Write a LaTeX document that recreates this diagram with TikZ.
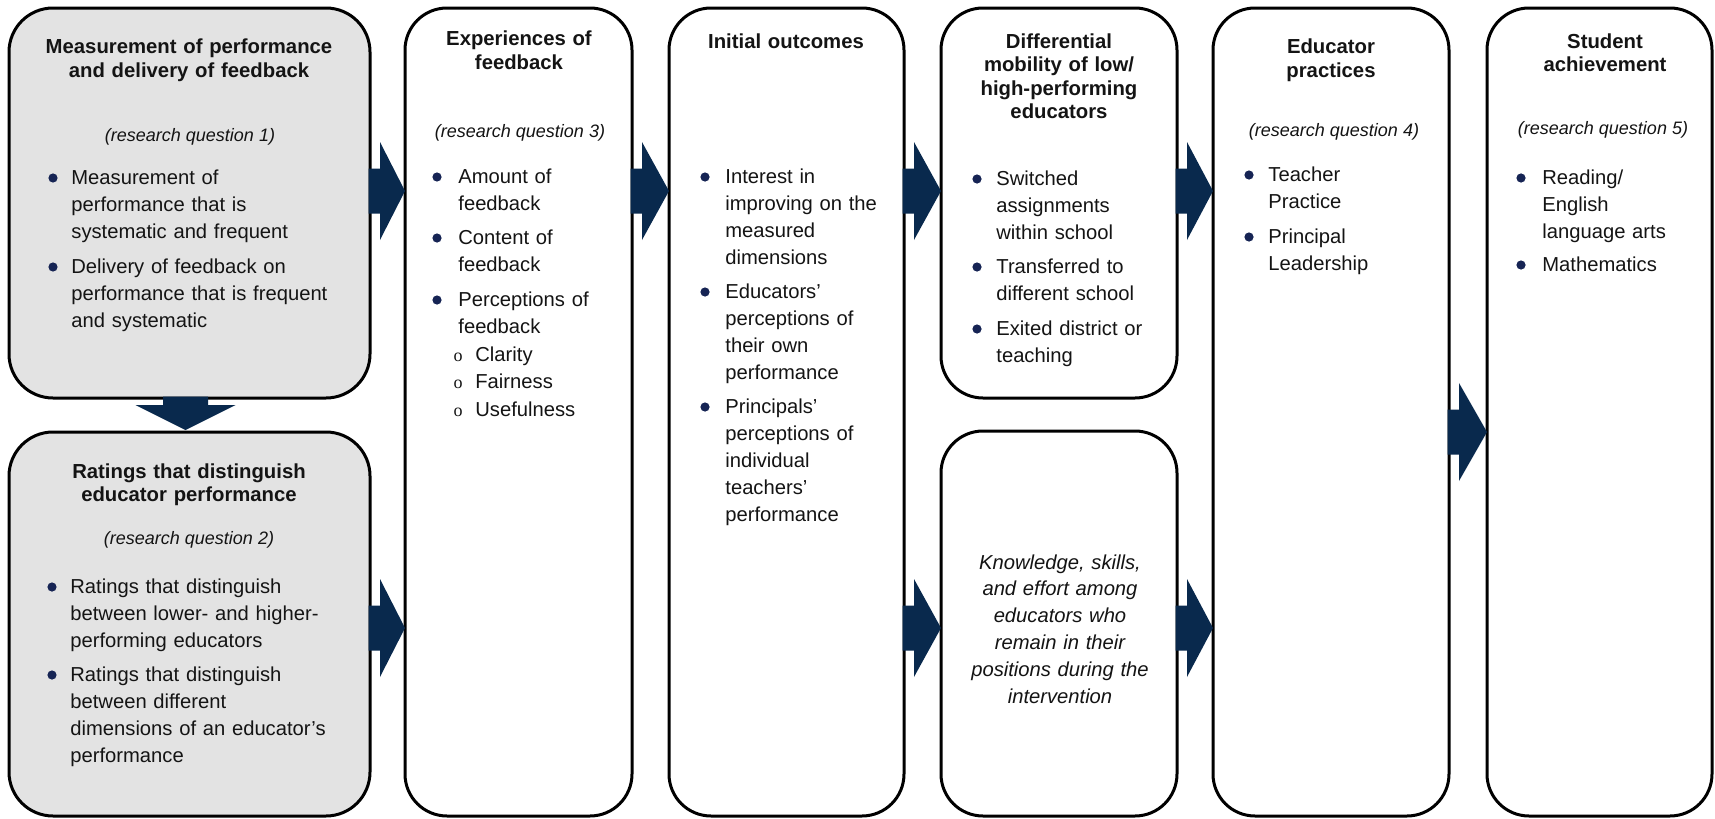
\documentclass[tikz,border=0pt]{standalone}
\usepackage{fontspec}
\setmainfont{Liberation Sans}
\newfontfamily\serifo{Liberation Serif}
\usetikzlibrary{calc}
\definecolor{navy}{RGB}{9,41,77}
\definecolor{dotc}{RGB}{22,36,84}
\definecolor{boxgray}{RGB}{227,227,227}
\definecolor{txt}{RGB}{20,20,20}
\newcommand\bitem[5]{%
  \fill[dotc] (#2,#4-6) circle (2.3pt);
  \node[item] (#1) at (#3,#4) {#5};}
\newcommand\rarr[3]{%
  \fill[navy] let \p1=(#1.north east), \p2=(#2.west) in
   (\x1-0.75pt,\y1-#3*0.5pt+11.25pt) -- (\x1+5pt,\y1-#3*0.5pt+11.25pt) --
   (\x1+5pt,\y1-#3*0.5pt+24.5pt) -- (\x2,\y1-#3*0.5pt) --
   (\x1+5pt,\y1-#3*0.5pt-24.5pt) -- (\x1+5pt,\y1-#3*0.5pt-11.25pt) --
   (\x1-0.75pt,\y1-#3*0.5pt-11.25pt) -- cycle;}
\begin{document}
\begin{tikzpicture}[x=0.5pt,y=-0.5pt,
  box/.style={draw=black, line width=1.5pt, rounded corners=22pt, inner sep=0pt, outer sep=0pt, anchor=north west},
  graybox/.style={box, fill=boxgray},
  whitebox/.style={box, fill=white, rounded corners=21pt},
  ttl/.style={font=\bfseries\fontsize{10.15}{11.75}\selectfont, align=center, anchor=base, inner sep=0pt, text=txt},
  rq/.style={font=\itshape\fontsize{9}{11}\selectfont, anchor=base, inner sep=0pt, text=txt},
  item/.style={font=\fontsize{10.1}{13.5}\selectfont, align=left, anchor=base west, inner sep=0pt, text=txt},
  subo/.style={font=\serifo\fontsize{9}{13.75}\selectfont, align=center, text width=8pt, anchor=base, inner sep=0pt, text=txt}]
\useasboundingbox (0,0) rectangle (1715,819);
\fill[white] (0,0) rectangle (1715,819);

% boxes
\node[graybox, minimum width=180.5pt, minimum height=195pt] (A) at (9,8) {};
\node[graybox, minimum width=180.5pt, minimum height=192pt] (D) at (9,432) {};
\node[whitebox, minimum width=113.5pt, minimum height=404pt] (B) at (405,8) {};
\node[whitebox, minimum width=117.5pt, minimum height=404pt] (C) at (669,8) {};
\node[whitebox, minimum width=118pt, minimum height=195pt] (E) at (941,8) {};
\node[whitebox, minimum width=118pt, minimum height=192.5pt] (F) at (941,431) {};
\node[whitebox, minimum width=118pt, minimum height=404pt] (G) at (1213,8) {};
\node[whitebox, minimum width=112.5pt, minimum height=404pt] (H) at (1487,8) {};

% box A
\node[ttl, text width=170pt] (At) at (189,54) {Measurement of performance\\and delivery of feedback};
\node[rq] (Aq) at (190,141) {(research question 1)};
\begingroup
\tikzset{item/.append style={text width=140pt}}
\bitem{a1}{53}{71}{184}{Measurement of\\performance that is\\systematic and frequent}
\bitem{a2}{53}{71}{273}{Delivery of feedback on\\performance that is frequent\\and systematic}
\endgroup

% box D
\node[ttl, text width=170pt] (Dt) at (189,478) {Ratings that distinguish\\educator performance};
\node[rq] (Dq) at (189,544) {(research question 2)};
\begingroup
\tikzset{item/.append style={text width=140pt}}
\bitem{d1}{52}{70}{593}{Ratings that distinguish\\between lower- and higher-\\performing educators}
\bitem{d2}{52}{70}{681}{Ratings that distinguish\\between different\\dimensions of an educator’s\\performance}
\endgroup

% box B
\node[ttl, text width=105pt] (Bt) at (519,46) {Experiences of\\feedback};
\node[rq] (Bq) at (520,137) {(research question 3)};
\begingroup
\tikzset{item/.append style={text width=80pt}}
\bitem{b1}{437}{458}{183}{Amount of\\feedback}
\bitem{b2}{437}{458}{244}{Content of\\feedback}
\bitem{b3}{437}{458}{306}{Perceptions of\\feedback}
\node[item, text width=70pt, font=\fontsize{10.1}{13.75}\selectfont] (b4) at (475,361) {Clarity\\Fairness\\Usefulness};
\node[subo] (b4o) at (458,361) {o\\o\\o};
\endgroup

% box C
\node[ttl, text width=105pt] (Ct) at (786,48) {Initial outcomes};
\begingroup
\tikzset{item/.append style={text width=82pt}}
\bitem{c1}{705}{725}{183}{Interest in\\improving on the\\measured\\dimensions}
\bitem{c2}{705}{725}{298}{Educators’\\perceptions of\\their own\\performance}
\bitem{c3}{705}{725}{413}{Principals’\\perceptions of\\individual\\teachers’\\performance}
\endgroup

% box E
\node[ttl, text width=110pt] (Et) at (1059,48) {Differential\\mobility of low/\\high-performing\\educators};
\begingroup
\tikzset{item/.append style={text width=84pt}}
\bitem{e1}{977}{996}{185}{Switched\\assignments\\within school}
\bitem{e2}{977}{996}{273}{Transferred to\\different school}
\bitem{e3}{977}{996}{335}{Exited district or\\teaching}
\endgroup

% box F
\node[font=\itshape\fontsize{10.1}{13.45}\selectfont, align=center, text width=110pt, anchor=base, inner sep=0pt, text=txt] (Ft) at (1060,569)
  {Knowledge, skills,\\and effort among\\educators who\\remain in their\\positions during the\\intervention};

% box G
\node[ttl, text width=110pt] (Gt) at (1331,54) {Educator\\practices};
\node[rq] (Gq) at (1334,136) {(research question 4)};
\begingroup
\tikzset{item/.append style={text width=82pt}}
\bitem{g1}{1249}{1268}{181}{Teacher\\Practice}
\bitem{g2}{1249}{1268}{243}{Principal\\Leadership}
\endgroup

% box H
\node[ttl, text width=105pt] (Ht) at (1605,48) {Student\\achievement};
\node[rq] (Hq) at (1603,134) {(research question 5)};
\begingroup
\tikzset{item/.append style={text width=78pt}}
\bitem{h1}{1521}{1542}{184}{Reading/\\English\\language arts}
\bitem{h2}{1521}{1542}{271}{Mathematics}
\endgroup

% block arrows
\rarr{A}{B}{183}
\rarr{D}{B}{196}
\rarr{B}{C}{183}
\rarr{C}{E}{183}
\rarr{C}{F}{620}
\rarr{E}{G}{183}
\rarr{F}{G}{197}
\rarr{G}{H}{424}
\fill[navy] let \p1=(A.south), \p2=(D.north) in
  (\x1-13.25pt,\y1+0.75pt) -- (\x1+9.25pt,\y1+0.75pt) -- (\x1+9.25pt,\y2+13.5pt) --
  (\x1+23pt,\y2+13.5pt) -- (\x1-2pt,\y2+1pt) -- (\x1-27pt,\y2+13.5pt) --
  (\x1-13.25pt,\y2+13.5pt) -- cycle;
\end{tikzpicture}
\end{document}
